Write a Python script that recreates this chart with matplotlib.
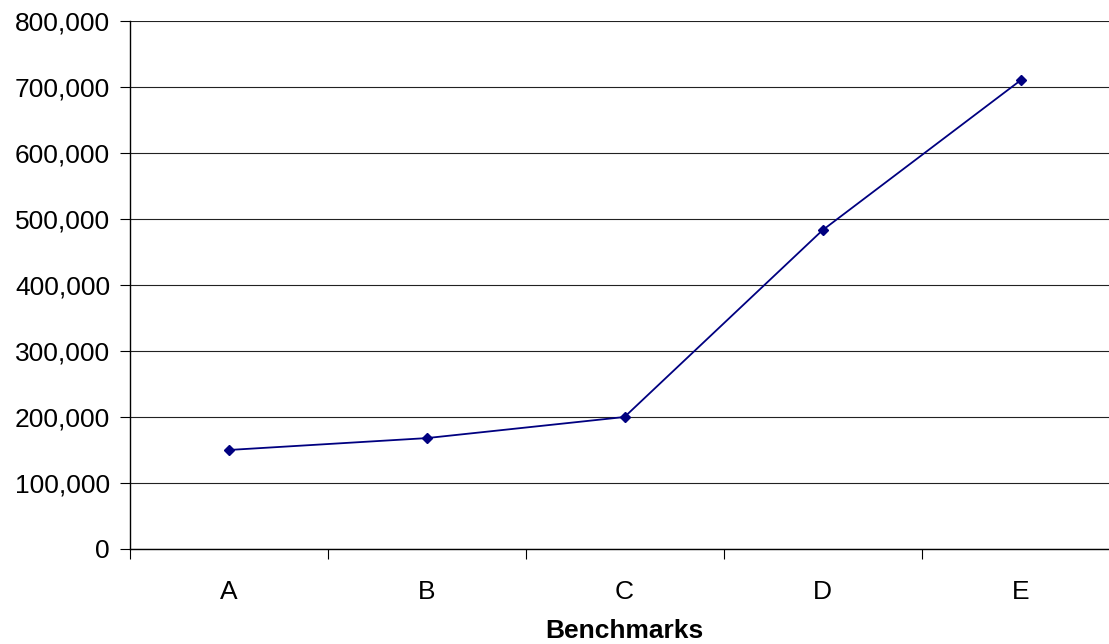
import matplotlib
matplotlib.use("Agg")
import matplotlib.pyplot as plt
from matplotlib.ticker import FuncFormatter, FixedLocator

# data
benchmarks = ['A', 'B', 'C', 'D', 'E']
values = [150000, 168000, 200000, 483000, 710000]
y_ticks = [0, 100000, 200000, 300000, 400000, 500000, 600000, 700000, 800000]

plt.rcParams['font.family'] = ['Liberation Sans', 'DejaVu Sans']

fig = plt.figure(figsize=(11.09, 6.44), dpi=100)
W, H = 1109.0, 644.0
# the plot area runs a little past the right edge of the picture, as in the original
ax = fig.add_axes([129.5 / W, 95 / H, 990 / W, 528 / H])

x = list(range(len(benchmarks)))
ax.plot(x, values, color='#000080', linewidth=1.3, marker='D', markersize=5.5,
        markerfacecolor='#000080', markeredgecolor='#000080', zorder=3)

ax.set_xlim(-0.5, len(benchmarks) - 0.5)
ax.set_ylim(0, 800000)

ax.set_yticks(y_ticks)
ax.yaxis.set_major_formatter(FuncFormatter(lambda v, p: '{:,.0f}'.format(v)))
ax.grid(axis='y', color='#222222', linewidth=0.8)
ax.set_axisbelow(True)

# category labels centred, tick marks between categories
ax.xaxis.set_major_locator(FixedLocator([i - 0.5 for i in range(len(benchmarks) + 1)]))
ax.xaxis.set_minor_locator(FixedLocator(x))
ax.set_xticklabels([])
ax.set_xticklabels(benchmarks, minor=True)
ax.tick_params(axis='x', which='minor', length=0, pad=22, labelsize=19)
ax.tick_params(axis='x', which='major', length=7, width=0.8, direction='out')
ax.tick_params(axis='y', length=7, width=0.8, pad=7, labelsize=19)

for s in ['top', 'right']:
    ax.spines[s].set_visible(False)
ax.spines['left'].set_linewidth(1.0)
ax.spines['bottom'].set_linewidth(1.0)

ax.set_xlabel('Benchmarks', fontsize=19, fontweight='bold', labelpad=11)

fig.savefig('out.png', dpi=100, facecolor='white')
